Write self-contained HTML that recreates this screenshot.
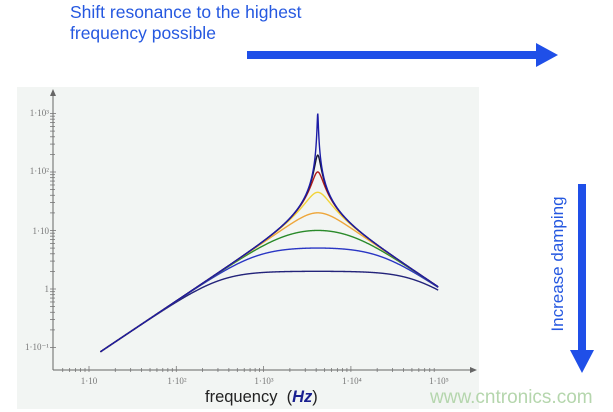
<!DOCTYPE html>
<html><head><meta charset="utf-8"><style>
html,body{margin:0;padding:0;background:#fff;}
body{width:613px;height:412px;overflow:hidden;position:relative;font-family:"Liberation Sans",sans-serif;}
</style></head><body>
<svg width="613" height="412" viewBox="0 0 613 412" xmlns="http://www.w3.org/2000/svg" style="position:absolute;left:0;top:0">
<rect x="17" y="87" width="462" height="322" fill="#f2f5f3"/>
<text x="70" y="18" font-size="17.5" fill="#2558e0" font-family="Liberation Sans, sans-serif">Shift resonance to the highest</text>
<text x="70" y="39" font-size="17.5" fill="#2558e0" font-family="Liberation Sans, sans-serif">frequency possible</text>
<rect x="247" y="51" width="292" height="8" fill="#1f4fe8"/>
<polygon points="536,43 558,55 536,67" fill="#1f4fe8"/>
<rect x="578" y="184" width="8" height="168" fill="#1f4fe8"/>
<polygon points="570,350 594,350 582,373" fill="#1f4fe8"/>
<text transform="translate(563,264) rotate(-90)" text-anchor="middle" font-size="17" fill="#2558e0" font-family="Liberation Sans, sans-serif">Increase damping</text>
<g stroke="#666" stroke-width="1" fill="none" id="axes">
<line x1="53" y1="370" x2="53" y2="92"/>
<line x1="53" y1="370" x2="474" y2="370"/>
</g>
<polygon points="50,96 56,96 53,89" fill="#666"/>
<polygon points="470,367 470,373 477,370" fill="#666"/>
<g id="ticks" stroke="#777" stroke-width="0.8"></g>
<g font-family="Liberation Serif, serif" font-size="9" fill="#777">
<text x="49" y="116" text-anchor="end">1·10³</text>
<text x="49" y="174" text-anchor="end">1·10²</text>
<text x="49" y="234" text-anchor="end">1·10</text>
<text x="49" y="292" text-anchor="end">1</text>
<text x="49" y="350" text-anchor="end">1·10⁻¹</text>
<text x="89" y="384" text-anchor="middle">1·10</text>
<text x="177" y="384" text-anchor="middle">1·10²</text>
<text x="264" y="384" text-anchor="middle">1·10³</text>
<text x="352" y="384" text-anchor="middle">1·10⁴</text>
<text x="439" y="384" text-anchor="middle">1·10⁵</text>
</g>
<text x="205" y="402" font-size="16.5" fill="#222" font-family="Liberation Sans, sans-serif">frequency&#160;&#160;(<tspan font-weight="bold" font-style="italic" fill="#1a2090">Hz</tspan>)</text>
<g id="curves" fill="none" stroke-width="1.4"></g>
<text x="430" y="403" font-size="19" fill="#b5d6ad" font-family="Liberation Sans, sans-serif">www.cntronics.com</text>
</svg>
<script>
var X=function(f){return 89+(Math.log10(f)-1)*87.3;};
var Y=function(v){return 289-Math.log10(v)*58.5;};
var t=document.getElementById('ticks'),s='';
for(var d=-1;d<3;d++)for(var k=1;k<10;k++){var y=Y(k*Math.pow(10,d));if(y>90&&y<368)s+='<line x1="50" x2="'+(k==1?56:55)+'" y1="'+y+'" y2="'+y+'"/>';}
y=Y(1000);s+='<line x1="50" x2="56" y1="'+y+'" y2="'+y+'"/>';
for(var d=0;d<5;d++)for(var k=1;k<10;k++){var x=X(k*Math.pow(10,d));if(x>55&&x<470)s+='<line y1="'+(k==1?366:368)+'" y2="372" x1="'+x+'" x2="'+x+'"/>';}
t.innerHTML=s;
var f0=4170,A=f0/160;
var cs=[[6.5,'#23237a'],[2.6,'#2a36c4'],[1.3,'#2a8a2a'],[0.65,'#eea63a'],[0.29,'#f2d43a'],[0.13,'#b01a1a'],[0.067,'#151535'],[0.013,'#1c1ca6']];
var g='';
cs.forEach(function(c){var z=c[0],p='';
for(var i=0;i<=1400;i++){var lf=Math.log10(13.5)+(5-Math.log10(13.5))*i/1400;var f=Math.pow(10,lf);var r=f/f0;
var v=(f/160)/Math.sqrt(Math.pow(1-r*r,2)+Math.pow(2*z*r,2));p+=(i?'L':'M')+X(f).toFixed(2)+','+Y(v).toFixed(2);}
g+='<path d="'+p+'" stroke="'+c[1]+'"/>';});
document.getElementById('curves').innerHTML=g;
</script>
</body></html>
